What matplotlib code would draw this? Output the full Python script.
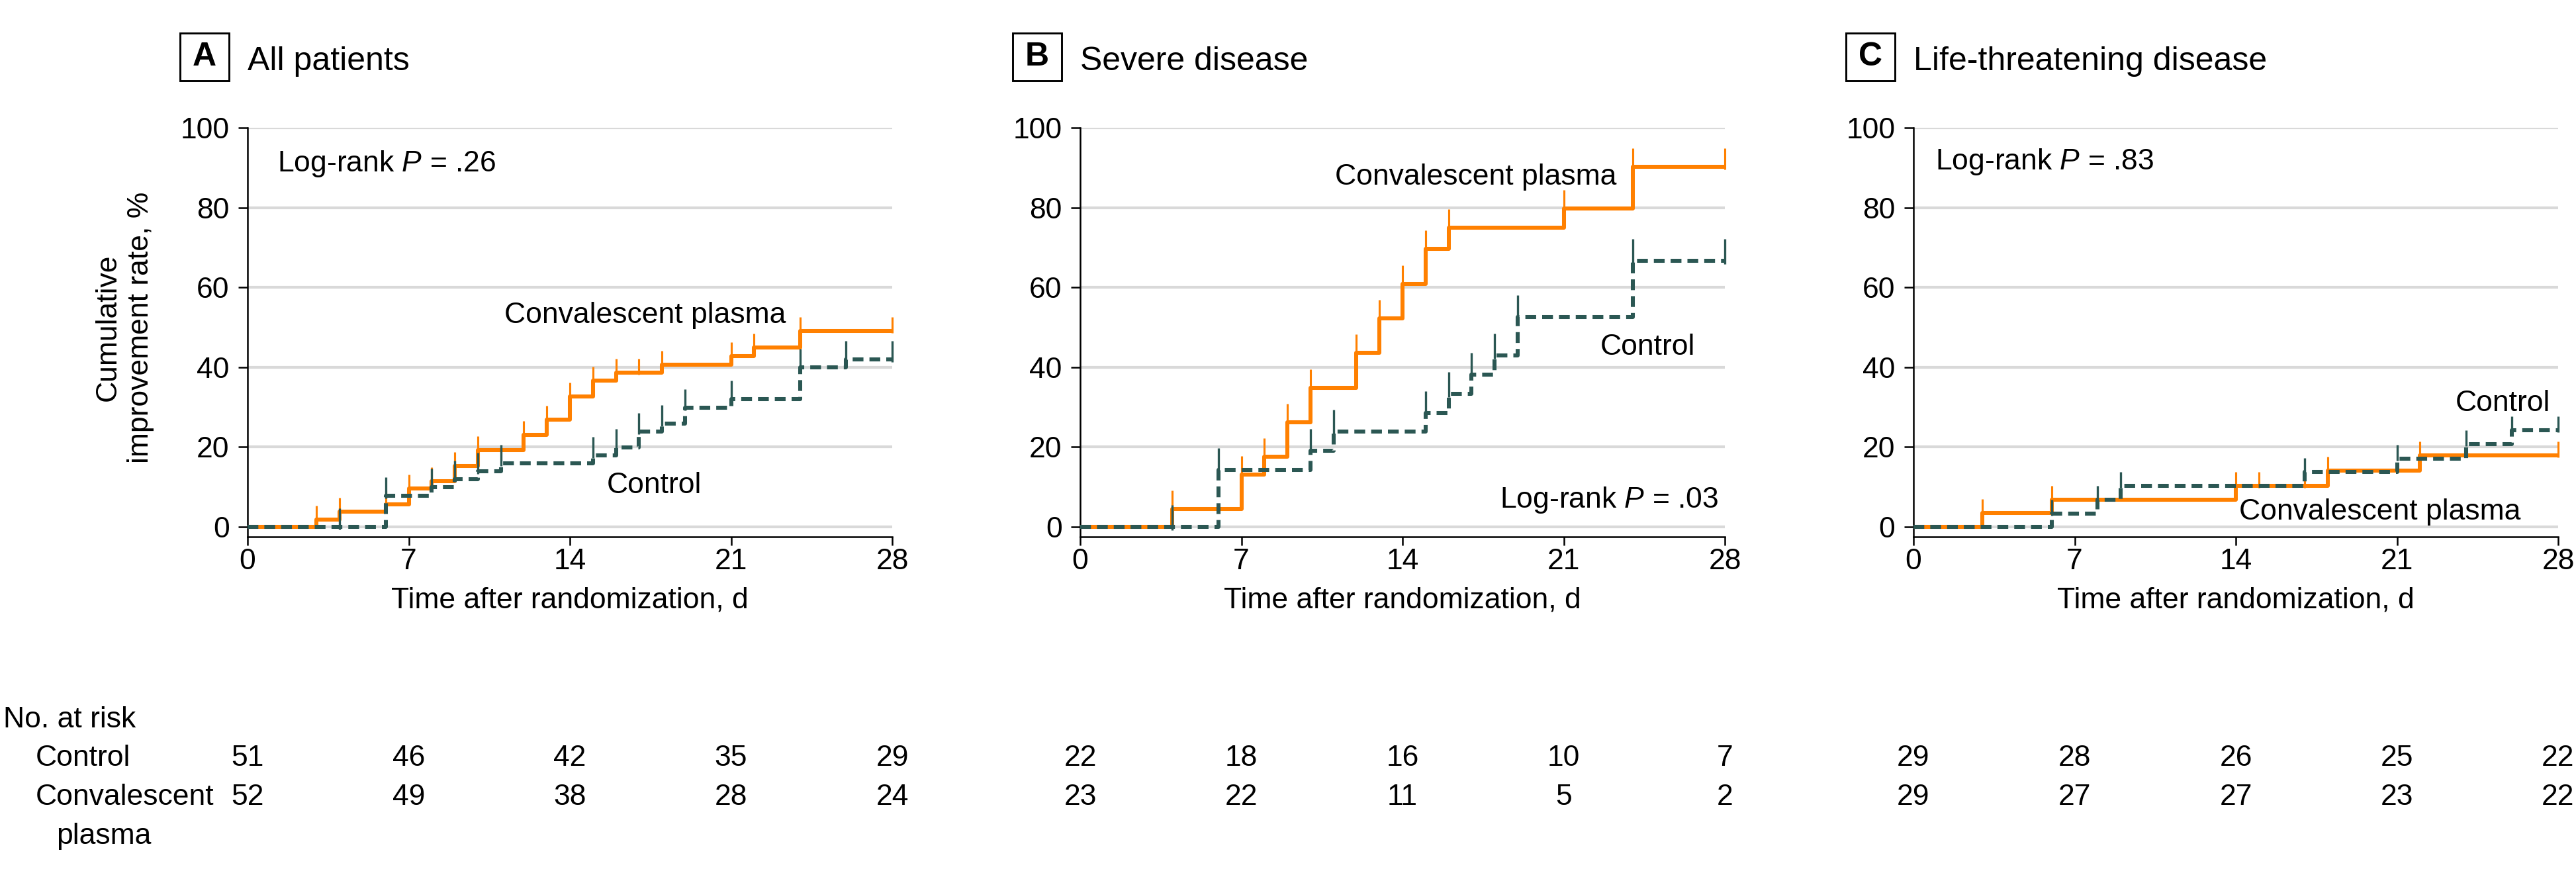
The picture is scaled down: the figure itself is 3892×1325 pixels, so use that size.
import numpy as np
import matplotlib
matplotlib.use('Agg')
import matplotlib.pyplot as plt
from matplotlib.path import Path
from matplotlib.markers import MarkerStyle
from matplotlib.patches import Rectangle

plt.rcParams['font.family'] = ['Liberation Sans', 'DejaVu Sans']
plt.rcParams['mathtext.fontset'] = 'custom'
plt.rcParams['mathtext.rm'] = 'Liberation Sans'
plt.rcParams['mathtext.it'] = 'Liberation Sans:italic'

# ---------------- data ----------------
day_ticks = [0, 7, 14, 21, 28]
pct_ticks = [0, 20, 40, 60, 80, 100]
panel_letters = ['A', 'B', 'C']
panel_titles = ['All patients', 'Severe disease', 'Life-threatening disease']
logrank_p = ['.26', '.03', '.83']

# Panel A - all patients
a_cp_t = [3, 4, 6, 7, 8, 9, 10, 12, 13, 14, 15, 16, 18, 21, 22, 24]
a_cp_v = [1.9, 3.8, 5.7, 9.6, 11.5, 15.3, 19.2, 23.0, 26.9, 32.7, 36.6, 38.6, 40.6, 42.8, 44.9, 49.1]
a_cp_cens = [17, 28]
a_ct_t = [6, 8, 9, 10, 11, 15, 16, 17, 18, 19, 21, 24, 26]
a_ct_v = [7.8, 9.9, 11.9, 14.0, 15.9, 17.9, 19.9, 23.9, 25.9, 29.9, 32.0, 39.9, 41.9]
a_ct_cens = [4, 28]

# Panel B - severe disease
b_cp_t = [4, 7, 8, 9, 10, 12, 13, 14, 15, 16, 21, 24]
b_cp_v = [4.4, 13.1, 17.5, 26.2, 34.9, 43.6, 52.2, 60.8, 69.7, 74.9, 79.8, 90.2]
b_cp_cens = [28]
b_ct_t = [6, 10, 11, 15, 16, 17, 18, 19, 24]
b_ct_v = [14.3, 19.0, 23.8, 28.6, 33.4, 38.1, 42.9, 52.6, 66.7]
b_ct_cens = [4, 28]

# Panel C - life-threatening disease
c_cp_t = [3, 6, 14, 18, 22]
c_cp_v = [3.4, 6.8, 10.3, 14.1, 17.9]
c_cp_cens = [15, 17, 28]
c_ct_t = [6, 8, 9, 17, 21, 24, 26]
c_ct_v = [3.3, 6.8, 10.3, 13.8, 17.1, 20.7, 24.2]
c_ct_cens = [28]

# Number at risk
a_risk_ct = [51, 46, 42, 35, 29]
a_risk_cp = [52, 49, 38, 28, 24]
b_risk_ct = [22, 18, 16, 10, 7]
b_risk_cp = [23, 22, 11, 5, 2]
c_risk_ct = [29, 28, 26, 25, 22]
c_risk_cp = [29, 27, 27, 23, 22]

panels = [
    dict(cp=(a_cp_t, a_cp_v, a_cp_cens), ct=(a_ct_t, a_ct_v, a_ct_cens),
         risk_ct=a_risk_ct, risk_cp=a_risk_cp),
    dict(cp=(b_cp_t, b_cp_v, b_cp_cens), ct=(b_ct_t, b_ct_v, b_ct_cens),
         risk_ct=b_risk_ct, risk_cp=b_risk_cp),
    dict(cp=(c_cp_t, c_cp_v, c_cp_cens), ct=(c_ct_t, c_ct_v, c_ct_cens),
         risk_ct=c_risk_ct, risk_cp=c_risk_cp),
]

# ---------------- layout / style ----------------
W, H, DPI = 3892, 1325, 300
ORANGE = '#FF8000'
TEAL = '#2B5753'
GRID = '#D9D9D9'
FS = 10.7
PX2PT = 72.0 / DPI

ax_left_px = [374, 1632, 2891]
ax_w_px = 974
top_px = 193
zero_px = 796
px_per_pct = (zero_px - top_px) / 100.0
ymin = -2.5
bottom_px = zero_px - ymin * px_per_pct
xlabel_base_px = 918

# in-axes label positions (x in days, y in %)
lab_cp = [(11.15, 51.0), (11.06, 85.7), (14.15, 1.8)]
lab_ct = [(15.6, 8.5), (22.6, 43.2), (23.54, 29.1)]
lab_lr = [(1.3, 89.1), (18.24, 4.8), (0.94, 89.6)]
tick_len_px = [(21, 28), (28, 33), (21, 21)]  # (orange, teal)


def fx(px):
    return px / W


def fy(py):
    return 1.0 - py / H


def step_xy(t, v):
    x = np.concatenate([[0], np.asarray(t, float), [28]])
    y = np.concatenate([[0], np.asarray(v, float), [v[-1]]])
    return x, y


def level_at(t, v, q):
    t = np.asarray(t, float)
    v = np.asarray(v, float)
    idx = np.searchsorted(t, q, side='right') - 1
    out = np.where(idx >= 0, v[np.clip(idx, 0, None)], 0.0)
    return out


tick_marker = MarkerStyle(Path([(0, -0.15), (0, 1.0)], [Path.MOVETO, Path.LINETO]))

fig = plt.figure(figsize=(W / DPI, H / DPI), dpi=DPI)

for i, p in enumerate(panels):
    ax = fig.add_axes([fx(ax_left_px[i]), fy(bottom_px), ax_w_px / W, (bottom_px - top_px) / H])
    ax.set_xlim(0, 28)
    ax.set_ylim(ymin, 100)
    for s in ['top', 'right']:
        ax.spines[s].set_visible(False)
    for s in ['left', 'bottom']:
        ax.spines[s].set_linewidth(0.6)
    ax.set_xticks(day_ticks)
    ax.set_yticks(pct_ticks)
    ax.tick_params(axis='both', length=3.4, width=0.6, labelsize=FS, color='black')
    ax.tick_params(axis='y', pad=3.2)
    ax.tick_params(axis='x', length=3.0, pad=1.0)
    ax.yaxis.grid(True, color=GRID, linewidth=1.0)
    ax.set_axisbelow(True)

    curves = [(p['cp'], ORANGE, '-', tick_len_px[i][0], 0.75, 3),
              (p['ct'], TEAL, (0, (2.7, 1.5)), tick_len_px[i][1], 0.8, 4)]
    for (t, v, cens), col, ls, tl, tw, z in curves:
        x, y = step_xy(t, v)
        ax.step(x, y, where='post', color=col, lw=1.45, linestyle=ls,
                dash_capstyle='butt', solid_capstyle='butt', zorder=z, clip_on=False)
        tt = np.sort(np.concatenate([np.asarray(t, float), np.asarray(cens, float)]))
        lv = level_at(t, v, tt)
        ms = 2.0 * tl * PX2PT
        ax.plot(tt, lv, linestyle='none', marker=tick_marker, markersize=ms,
                mec=col, mfc='none', mew=tw, zorder=z, clip_on=False)

    ax.text(lab_cp[i][0], lab_cp[i][1], 'Convalescent plasma', fontsize=FS,
            ha='left', va='baseline', zorder=6)
    ax.text(lab_ct[i][0], lab_ct[i][1], 'Control', fontsize=FS,
            ha='left', va='baseline', zorder=6)
    ax.text(lab_lr[i][0], lab_lr[i][1], r'Log-rank $P$ = ' + logrank_p[i], fontsize=FS,
            ha='left', va='baseline', zorder=6)

    ax.set_xlabel('Time after randomization, d', fontsize=FS)
    ax.xaxis.label.set_va('baseline')
    ax.xaxis.set_label_coords(0.5, (bottom_px - xlabel_base_px) / (bottom_px - top_px))

    # panel title: boxed letter + title
    bl = ax_left_px[i] - 102
    fig.patches.append(Rectangle((fx(bl), fy(122)), 74 / W, 72 / H,
                                 transform=fig.transFigure, fill=False,
                                 edgecolor='black', linewidth=0.7))
    fig.text(fx(bl + 37), fy(86), panel_letters[i], fontsize=12, fontweight='bold',
             ha='center', va='center')
    fig.text(fx(ax_left_px[i]), fy(106), panel_titles[i], fontsize=12,
             ha='left', va='baseline')

    # number at risk
    for xd, n1, n2 in zip(day_ticks, p['risk_ct'], p['risk_cp']):
        xpx = ax_left_px[i] + xd / 28.0 * ax_w_px
        fig.text(fx(xpx), fy(1157), str(n1), fontsize=FS, ha='center', va='baseline')
        fig.text(fx(xpx), fy(1216), str(n2), fontsize=FS, ha='center', va='baseline')

# y label
fig.text(fx(188), fy((top_px + zero_px) / 2), 'Cumulative\nimprovement rate, %',
         rotation=90, fontsize=FS, ha='center', va='center', multialignment='center',
         linespacing=1.25)

# risk table labels
fig.text(fx(5), fy(1099), 'No. at risk', fontsize=FS, ha='left', va='baseline')
fig.text(fx(54), fy(1157), 'Control', fontsize=FS, ha='left', va='baseline')
fig.text(fx(54), fy(1216), 'Convalescent', fontsize=FS, ha='left', va='baseline')
fig.text(fx(85), fy(1275), 'plasma', fontsize=FS, ha='left', va='baseline')

fig.savefig('out.png', dpi=DPI, facecolor='white')
